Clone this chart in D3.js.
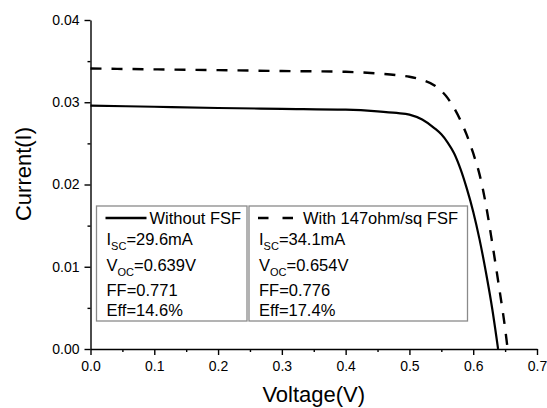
<!DOCTYPE html>
<html>
<head>
<meta charset="utf-8">
<script src="https://cdn.jsdelivr.net/npm/d3@7"></script>
<style>
  body { margin: 0; background: #fff; }
  svg { font-family: "Liberation Sans", Arial, sans-serif; }
  .axis path, .axis line { stroke: #000; stroke-width: 1.4; }
  .axis text { font-size: 14px; fill: #000; }
</style>
</head>
<body>
<svg width="547" height="408"></svg>
<script>
// I-V data
var voltsA = [0, 0.1, 0.2, 0.3, 0.4, 0.45, 0.48, 0.5, 0.52, 0.54, 0.55, 0.56, 0.57, 0.58, 0.59, 0.6, 0.61, 0.62, 0.63, 0.639];
var currA  = [0.0296, 0.02945, 0.0293, 0.0292, 0.0291, 0.0289, 0.0287, 0.0285, 0.0279, 0.0268, 0.0261, 0.0251, 0.0238, 0.0219, 0.0195, 0.0167, 0.0133, 0.0093, 0.0048, 0.0];
var voltsB = [0, 0.1, 0.2, 0.3, 0.4, 0.45, 0.48, 0.5, 0.52, 0.54, 0.56, 0.57, 0.58, 0.59, 0.6, 0.61, 0.62, 0.63, 0.64, 0.65, 0.654];
var currB  = [0.0341, 0.0340, 0.0339, 0.0338, 0.0337, 0.0335, 0.0333, 0.0331, 0.0327, 0.0320, 0.0305, 0.0293, 0.0278, 0.0260, 0.0238, 0.0212, 0.0175, 0.0128, 0.0078, 0.0025, 0.0];

var xTicks = [0, 0.1, 0.2, 0.3, 0.4, 0.5, 0.6, 0.7];
var yTicks = [0, 0.01, 0.02, 0.03, 0.04];

// legend text: [main, subscript, rest]
var legendA = {title: 'Without FSF', lines: [['I', 'SC', '=29.6mA'], ['V', 'OC', '=0.639V'], ['FF=0.771', '', ''], ['Eff=14.6%', '', '']]};
var legendB = {title: 'With 147ohm/sq FSF', lines: [['I', 'SC', '=34.1mA'], ['V', 'OC', '=0.654V'], ['FF=0.776', '', ''], ['Eff=17.4%', '', '']]};

var svg = d3.select('svg');
var margin = {t: 20, r: 10, b: 59, l: 90.5};
var w = 547 - margin.l - margin.r;
var h = 408 - margin.t - margin.b;

var g = svg.append('g').attr('transform', 'translate(' + [margin.l, margin.t] + ')');

var x = d3.scaleLinear().domain([0, 0.7]).range([0, w]);
var y = d3.scaleLinear().domain([0, 0.04]).range([h, 0]);

// minor ticks
g.append('g').attr('class', 'axis')
    .attr('transform', 'translate(0,' + h + ')')
    .call(d3.axisBottom(x).tickValues(d3.range(0.05, 0.7, 0.1)).tickSize(3).tickFormat(''))
    .select('.domain').remove();
g.append('g').attr('class', 'axis')
    .call(d3.axisLeft(y).tickValues(d3.range(0.005, 0.04, 0.01)).tickSize(3).tickFormat(''))
    .select('.domain').remove();

// major axes
g.append('g').attr('class', 'axis')
    .attr('transform', 'translate(0,' + h + ')')
    .call(d3.axisBottom(x).tickValues(xTicks).tickSize(6).tickSizeOuter(0).tickPadding(6).tickFormat(d3.format('.1f')));
g.append('g').attr('class', 'axis')
    .call(d3.axisLeft(y).tickValues(yTicks).tickSize(6).tickSizeOuter(0).tickPadding(5).tickFormat(d3.format('.2f')));

var line = d3.line()
    .x(function(d) { return x(d[0]); })
    .y(function(d) { return y(d[1]); })
    .curve(d3.curveMonotoneX);

g.append('path')
    .datum(voltsA.map(function(v, i) { return [v, currA[i]]; }))
    .attr('d', line)
    .attr('fill', 'none').attr('stroke', '#000').attr('stroke-width', 2.2);

g.append('path')
    .datum(voltsB.map(function(v, i) { return [v, currB[i]]; }))
    .attr('d', line)
    .attr('fill', 'none').attr('stroke', '#000').attr('stroke-width', 2.4)
    .attr('stroke-dasharray', '11,10');

// axis titles
svg.append('text')
    .attr('x', margin.l + w / 2).attr('y', 402)
    .attr('text-anchor', 'middle').style('font-size', '22px')
    .text('Voltage(V)');
svg.append('text')
    .attr('transform', 'translate(31,174) rotate(-90)')
    .attr('text-anchor', 'middle').style('font-size', '22px')
    .text('Current(I)');

// legend boxes
function drawLegend(leg, bx, bw, dashed) {
    var lg = svg.append('g').attr('transform', 'translate(' + [bx, 206] + ')');
    lg.append('rect').attr('width', bw).attr('height', 115)
        .attr('fill', '#fff').attr('stroke', '#8a8a8a').attr('stroke-width', 1.3);
    lg.append('line')
        .attr('x1', 9).attr('x2', dashed ? 44 : 50).attr('y1', 12).attr('y2', 12)
        .attr('stroke', '#000').attr('stroke-width', 2.4)
        .attr('stroke-dasharray', dashed ? '10.5,14' : null);
    lg.append('text').attr('x', dashed ? 54 : 53).attr('y', 18)
        .style('font-size', '16.5px').text(leg.title);
    var base = [39, 65, 90, 110];
    leg.lines.forEach(function(l, i) {
        var t = lg.append('text').attr('x', 10).attr('y', base[i]).style('font-size', '16.5px');
        t.append('tspan').text(l[0]);
        if (l[1]) {
            t.append('tspan').attr('dy', 5).style('font-size', '11px').text(l[1]);
            t.append('tspan').attr('dy', -5).text(l[2]);
        }
    });
}
drawLegend(legendA, 96.5, 150.5, false);
drawLegend(legendB, 249, 218.5, true);
</script>
</body>
</html>
